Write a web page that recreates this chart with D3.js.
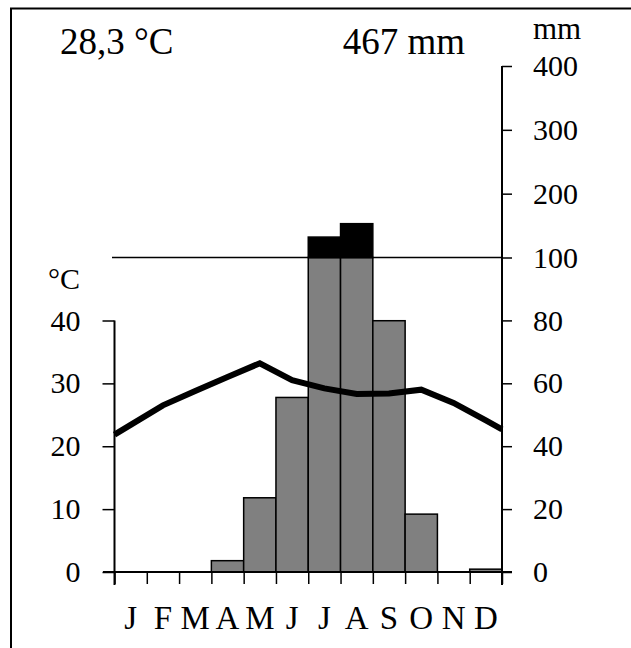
<!DOCTYPE html>
<html>
<head>
<meta charset="utf-8">
<script src="https://cdn.jsdelivr.net/npm/d3@7.9.0/dist/d3.min.js"></script>
<style>
  body { margin: 0; background: #fff; }
  svg { display: block; font-family: "Liberation Serif", "Times New Roman", serif; }
  .axis path.domain { display: none; }
  .axis line { stroke: #000; stroke-width: 1.5; }
  .axis text { fill: #000; font-size: 30px; font-family: "Liberation Serif", "Times New Roman", serif; }
</style>
</head>
<body>
<svg id="chart" width="631" height="648"></svg>
<script>
const months = ['J', 'F', 'M', 'A', 'M', 'J', 'J', 'A', 'S', 'O', 'N', 'D'];
const temperature = [23.4, 26.5, 28.8, 31.0, 33.2, 30.5, 29.2, 28.3, 28.4, 29.0, 26.9, 24.1];
const precipitation = [0, 0, 0, 3.6, 23.6, 55.5, 132, 153, 79.9, 18.4, 0, 0.9];
const tempTicks = [0, 10, 20, 30, 40];
const precTicks = [0, 20, 40, 60, 80, 100, 200, 300, 400];
const meanTempLabel = '28,3 °C';
const totalPrecLabel = '467 mm';

const svg = d3.select('#chart');

const x = d3.scaleLinear().domain([0, 12]).range([114.5, 502]);
const yT = d3.scaleLinear().domain([0, 40]).range([572, 320.5]);
const yP = d3.scaleLinear().domain([0, 100, 400]).range([572, 257.5, 66]);

// frame (only top and left edges fall inside the picture)
svg.append('path')
  .attr('d', 'M11,648 V8.5 H631')
  .attr('fill', 'none')
  .attr('stroke', '#000')
  .attr('stroke-width', 2);

// precipitation bars, grey up to 100 mm, black above
precipitation.forEach((p, i) => {
  if (p <= 0) return;
  svg.append('rect')
    .attr('x', x(i))
    .attr('y', yP(Math.min(p, 100)))
    .attr('width', x(i + 1) - x(i))
    .attr('height', yP(0) - yP(Math.min(p, 100)))
    .attr('fill', '#808080')
    .attr('stroke', '#000')
    .attr('stroke-width', 1.5);
  if (p > 100) {
    svg.append('rect')
      .attr('x', x(i))
      .attr('y', yP(p))
      .attr('width', x(i + 1) - x(i))
      .attr('height', yP(100) - yP(p))
      .attr('fill', '#000')
      .attr('stroke', '#000')
      .attr('stroke-width', 1.5);
  }
});

// 100 mm line
svg.append('line')
  .attr('x1', 112).attr('x2', x(12))
  .attr('y1', yP(100)).attr('y2', yP(100))
  .attr('stroke', '#000')
  .attr('stroke-width', 1.5);

// left temperature axis
svg.append('g')
  .attr('class', 'axis')
  .attr('transform', `translate(${x(0)},0)`)
  .call(d3.axisLeft(yT).tickValues(tempTicks).tickSize(12).tickSizeOuter(0).tickPadding(22));

svg.append('line')
  .attr('x1', x(0)).attr('x2', x(0))
  .attr('y1', yT(40)).attr('y2', yT(0) + 13)
  .attr('stroke', '#000').attr('stroke-width', 2);

svg.append('text')
  .attr('x', 48).attr('y', 289)
  .attr('font-size', 30)
  .text('°C');

// right precipitation axis
svg.append('g')
  .attr('class', 'axis')
  .attr('transform', `translate(${x(12)},0)`)
  .call(d3.axisRight(yP).tickValues(precTicks).tickSize(10).tickSizeOuter(0).tickPadding(21));

svg.append('line')
  .attr('x1', x(12)).attr('x2', x(12))
  .attr('y1', yP(400)).attr('y2', yP(0) + 13)
  .attr('stroke', '#000').attr('stroke-width', 2);

svg.append('text')
  .attr('x', 533).attr('y', 39)
  .attr('font-size', 31)
  .text('mm');

// month axis
svg.append('line')
  .attr('x1', 103).attr('x2', 512)
  .attr('y1', yP(0)).attr('y2', yP(0))
  .attr('stroke', '#000').attr('stroke-width', 2);

svg.append('g')
  .attr('class', 'axis')
  .attr('transform', `translate(0,${yP(0)})`)
  .call(d3.axisBottom(x).tickValues(d3.range(13)).tickSize(12).tickFormat(''));

svg.selectAll('.month')
  .data(months)
  .join('text')
  .attr('class', 'month')
  .attr('x', (d, i) => x(i + 0.5))
  .attr('y', 629)
  .attr('text-anchor', 'middle')
  .attr('font-size', 33)
  .text(d => d);

// temperature line, extended to the axes
const first = temperature[0] - (temperature[1] - temperature[0]) / 2;
const last = temperature[11] + (temperature[11] - temperature[10]) / 2;
const tempPoints = [[0, first], ...temperature.map((t, i) => [i + 0.5, t]), [12, last]];

svg.append('path')
  .datum(tempPoints)
  .attr('d', d3.line().x(d => x(d[0])).y(d => yT(d[1])))
  .attr('fill', 'none')
  .attr('stroke', '#000')
  .attr('stroke-width', 6);

// header values
svg.append('text')
  .attr('x', 60).attr('y', 54)
  .attr('font-size', 37)
  .text(meanTempLabel);

svg.append('text')
  .attr('x', 465).attr('y', 54)
  .attr('text-anchor', 'end')
  .attr('font-size', 37)
  .text(totalPrecLabel);
</script>
</body>
</html>
